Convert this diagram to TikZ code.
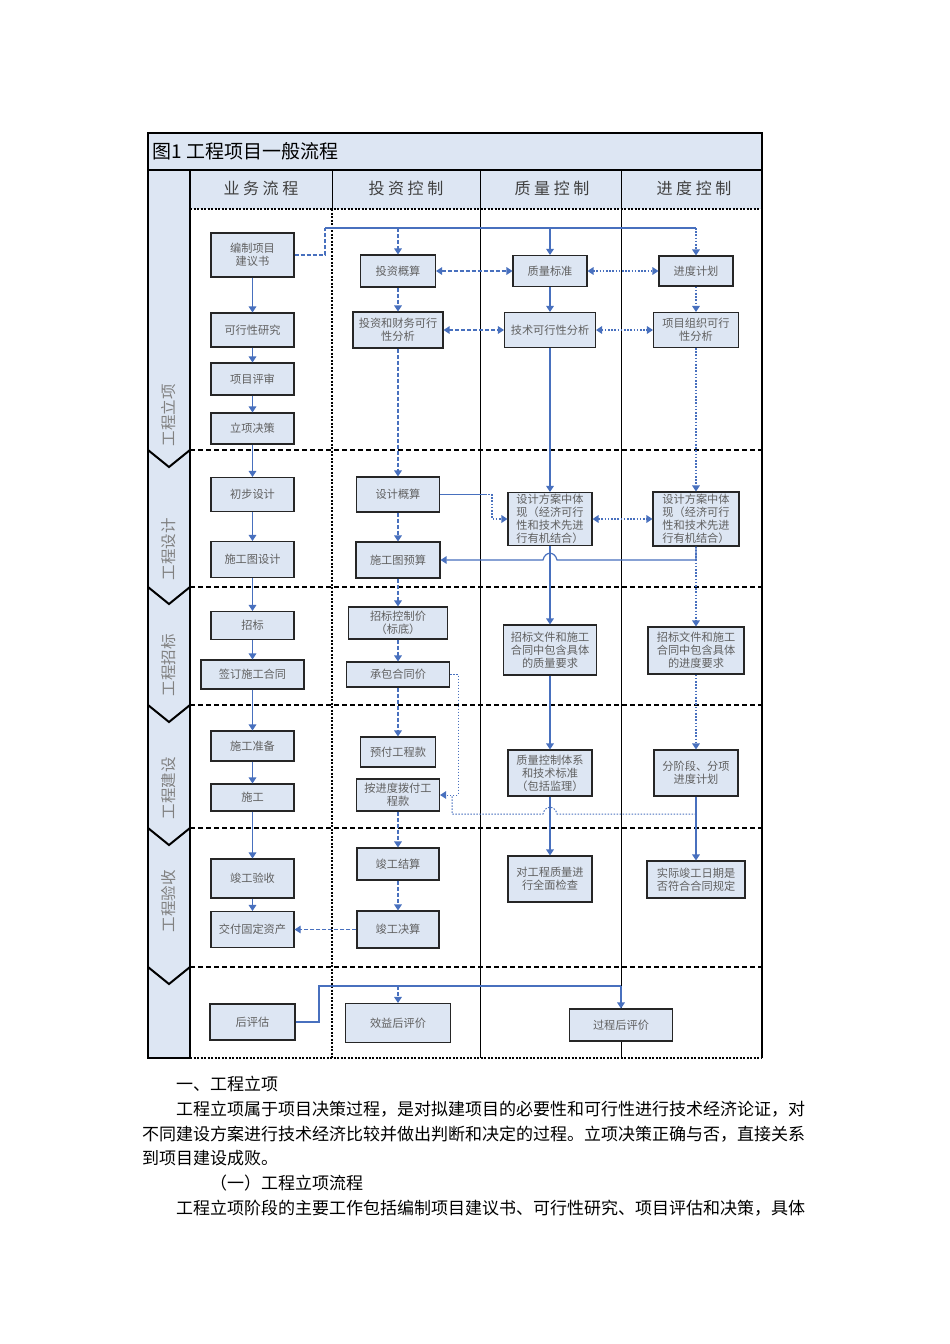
\documentclass[tikz,border=0pt]{standalone}
\usepackage{fontspec}
\newfontfamily\cjk{Noto Sans CJK SC}
\newfontfamily\cjkwide[LetterSpace=22]{Noto Sans CJK SC}
\usetikzlibrary{arrows.meta}
\definecolor{paleblue}{RGB}{221,230,243}
\definecolor{flowblue}{RGB}{72,112,190}
\definecolor{boxtext}{RGB}{96,96,96}

\begin{document}
\begin{tikzpicture}[x=1pt,y=-1pt,font=\cjk,>={Triangle[length=6pt,width=7.5pt]},
  box/.style={draw=black!85,line width=1.1pt,fill=paleblue,text=boxtext,align=center,
    inner sep=1pt,font=\cjk\fontsize{11.2}{13}\selectfont},
  hdr/.style={text=black!75,font=\cjkwide\fontsize{16}{16}\selectfont},
  phaselbl/.style={rotate=90,text=black!50,font=\cjk\fontsize{15.5}{15.5}\selectfont},
  para/.style={anchor=west,inner sep=0pt,font=\cjk\fontsize{17}{17}\selectfont},
  flowline/.style={draw=flowblue,line width=1.4pt},
  flow/.style={flowline,->},
  dashline/.style={dash pattern=on 4pt off 2pt},
  dotline/.style={dash pattern=on 1.6pt off 1.6pt,line width=1.8pt},
  thinline/.style={line width=1pt,dash pattern=on 1.5pt off 1.5pt},
  phase/.style={line width=1.6pt,dash pattern=on 5pt off 3pt}]
\fill[white] (0,0) rectangle (950,1344);
\useasboundingbox (0,0) rectangle (950,1344);

% frame, lanes and phases
\fill[paleblue] (148,133) rectangle (762,209);
\fill[paleblue] (148,170) rectangle (190,1058);
\draw[line width=1.4pt] (190,1058) -- (148,1058) -- (148,133) -- (762,133) -- (762,1058);
\draw[line width=1.4pt,dash pattern=on 2pt off 1.5pt] (190,1058) -- (762,1058);
\draw[line width=1.8pt] (148,170) -- (762,170);
\draw[line width=1.4pt,dash pattern=on 2pt off 1.5pt] (190,209) -- (762,209);
\draw[line width=1.5pt] (190,170) -- (190,1058);
\draw[line width=1pt] (332,170) -- (332,209);
\draw[line width=1.4pt,dash pattern=on 2pt off 1.5pt] (332,209) -- (332,1058);
\draw[line width=1pt] (480,170) -- (480,1058);
\draw[line width=1pt] (621,170) -- (621,1058);
\foreach \y in {450,587,705,828,967} {
  \draw[phase] (190,\y) -- (762,\y);
  \draw[line width=2pt] (148,\y) -- (169,{\y+17}) -- (190,\y);
}

\node[anchor=west,font=\cjk\fontsize{19}{19}\selectfont] (title) at (149,151) {图1 工程项目一般流程};
\node[hdr] (h1) at (261,188) {业务流程};
\node[hdr] (h2) at (406,188) {投资控制};
\node[hdr] (h3) at (552,188) {质量控制};
\node[hdr] (h4) at (694,188) {进度控制};

\node[phaselbl] (p1) at (169,415) {工程立项};
\node[phaselbl] (p2) at (169,549) {工程设计};
\node[phaselbl] (p3) at (169,665) {工程招标};
\node[phaselbl] (p4) at (169,788) {工程建设};
\node[phaselbl] (p5) at (169,901) {工程验收};

% 业务流程
\node[box,minimum width=83,minimum height=44] (jys) at (252.5,255) {编制项目\\建议书};
\node[box,minimum width=83,minimum height=34] (kxyj) at (252.5,330) {可行性研究};
\node[box,minimum width=83,minimum height=32] (xmps) at (252.5,379) {项目评审};
\node[box,minimum width=83,minimum height=31] (lxjc) at (252.5,428.5) {立项决策};
\node[box,minimum width=83,minimum height=34] (cbsj) at (252.5,494.5) {初步设计};
\node[box,minimum width=83,minimum height=36] (sgtsj) at (252.5,559.5) {施工图设计};
\node[box,minimum width=83,minimum height=28] (zhaob) at (252.5,625.5) {招标};
\node[box,minimum width=103,minimum height=29] (qdht) at (252.5,674.5) {签订施工合同};
\node[box,minimum width=83,minimum height=30] (sgzb) at (252.5,746) {施工准备};
\node[box,minimum width=83,minimum height=27] (shig) at (252.5,797.5) {施工};
\node[box,minimum width=83,minimum height=39] (jgys) at (252.5,878.5) {竣工验收};
\node[box,minimum width=83,minimum height=36] (jfzc) at (252.5,929.5) {交付固定资产};
\node[box,minimum width=85,minimum height=36] (hpg) at (252.5,1022) {后评估};

% 投资控制
\node[box,minimum width=75,minimum height=32] (tzgs) at (398,271) {投资概算};
\node[box,minimum width=90,minimum height=36] (tzfx) at (398,330) {投资和财务可行\\性分析};
\node[box,minimum width=83,minimum height=35] (sjgs) at (398,494.5) {设计概算};
\node[box,minimum width=84,minimum height=36] (sgtys) at (398,560) {施工图预算};
\node[box,minimum width=99,minimum height=32] (zbkzj) at (398,623) {招标控制价\\（标底）};
\node[box,minimum width=103,minimum height=25] (cbhtj) at (398,674.5) {承包合同价};
\node[box,minimum width=75,minimum height=30] (yfk) at (398,752) {预付工程款};
\node[box,minimum width=83,minimum height=32] (ajdbf) at (398,795) {按进度拨付工\\程款};
\node[box,minimum width=82,minimum height=32] (jgjs) at (398,864) {竣工结算};
\node[box,minimum width=82,minimum height=37] (jgjsuan) at (398,929.5) {竣工决算};
\node[box,minimum width=105,minimum height=39] (xyhpj) at (398,1023) {效益后评价};

% 质量控制
\node[box,minimum width=74,minimum height=31] (zlbz) at (550,271) {质量标准};
\node[box,minimum width=91,minimum height=35] (jskx) at (550,330) {技术可行性分析};
\node[box,minimum width=84,minimum height=53] (zlfa) at (550,519) {设计方案中体\\现（经济可行\\性和技术先进\\行有机结合）};
\node[box,minimum width=93,minimum height=50] (zlyq) at (550,650) {招标文件和施工\\合同中包含具体\\的质量要求};
\node[box,minimum width=84,minimum height=46] (zltx) at (550,773) {质量控制体系\\和技术标准\\（包括监理）};
\node[box,minimum width=84,minimum height=46] (zljc) at (550,879) {对工程质量进\\行全面检查};
\node[box,minimum width=103,minimum height=32] (gchpj) at (621,1025) {过程后评价};

% 进度控制
\node[box,minimum width=74,minimum height=30] (jdjh) at (696,271) {进度计划};
\node[box,minimum width=85,minimum height=35] (zzkx) at (696,330) {项目组织可行\\性分析};
\node[box,minimum width=86,minimum height=54] (jdfa) at (696,519) {设计方案中体\\现（经济可行\\性和技术先进\\行有机结合）};
\node[box,minimum width=96,minimum height=47] (jdyq) at (696,650.5) {招标文件和施工\\合同中包含具体\\的进度要求};
\node[box,minimum width=84,minimum height=46] (fjd) at (696,773) {分阶段、分项\\进度计划};
\node[box,minimum width=98,minimum height=37] (sjjg) at (696,879.5) {实际竣工日期是\\否符合合同规定};

% vertical flows
\foreach \a/\b in {jys/kxyj,kxyj/xmps,xmps/lxjc,lxjc/cbsj,cbsj/sgtsj,sgtsj/zhaob,zhaob/qdht,qdht/sgzb,sgzb/shig,shig/jgys,jgys/jfzc}
  \draw[flow] (\a) -- (\b);
\foreach \a/\b in {tzgs/tzfx,tzfx/sjgs,sjgs/sgtys,sgtys/zbkzj,zbkzj/cbhtj,cbhtj/yfk,ajdbf/jgjs,jgjs/jgjsuan}
  \draw[flow,dashline] (\a) -- (\b);
\foreach \a/\b in {zlbz/jskx,jskx/zlfa,zlfa/zlyq,zlyq/zltx,zltx/zljc}
  \draw[flow] (\a) -- (\b);
\foreach \a/\b in {jdjh/zzkx,zzkx/jdfa,jdfa/jdyq,jdyq/fjd}
  \draw[flow,dotline] (\a) -- (\b);
\draw[flow,line width=2pt] (fjd) -- (sjjg);

% across the lanes
\coordinate (jyturn) at (325,228);
\draw[flowline,dashline,line width=2pt] (jys.east) -| (jyturn);
\draw[flowline] (jyturn) -- (jdjh.north |- jyturn);
\draw[flow,dashline] (tzgs.north |- jyturn) -- (tzgs.north);
\draw[flow] (zlbz.north |- jyturn) -- (zlbz.north);
\draw[flow,dotline] (jdjh.north |- jyturn) -- (jdjh.north);
\draw[flow,dashline,<->] (tzgs) -- (zlbz);
\draw[flow,dotline,<->] (zlbz) -- (jdjh);
\draw[flow,dashline,<->] (tzfx) -- (jskx);
\draw[flow,dotline,<->] (jskx) -- (zzkx);

\coordinate (gsturn) at (492,494.5);
\draw[flowline,line width=1.2pt] (sjgs.east) -- ++(45,0);
\draw[flow,dotline] ([xshift=45pt]sjgs.east) -- (gsturn) |- (zlfa.west);
\draw[flow,dotline,<->] (zlfa) -- (jdfa);
\draw[flow,line width=1.2pt] (jdfa.south) |- (557,560) .. controls (555,551) and (545,551) .. (543,560) -- (sgtys.east);

\coordinate (bfturn) at (458,795);
\draw[flow,thinline] (cbhtj.east) -| (bfturn) -- (ajdbf.east);
\coordinate (jdturn) at (452,814);
\draw[flowline,thinline] (fjd.south |- jdturn) -- (557,814) .. controls (555,805) and (545,805) .. (543,814) -- (jdturn) -- (jdturn |- ajdbf.east);
\draw[flow,dashline,line width=1.1pt] (jgjsuan) -- (jfzc);

\coordinate (hpturn) at (319,986);
\draw[flowline,line width=2pt] (hpg.east) -| (hpturn) -- (xyhpj.north |- hpturn);
\draw[flowline] (xyhpj.north |- hpturn) -- (gchpj.north |- hpturn);
\draw[flow,dashline] (xyhpj.north |- hpturn) -- (xyhpj.north);
\draw[flow] (gchpj.north |- hpturn) -- (gchpj.north);

% text under the chart
\node[para] (t1) at (176,1084) {一、工程立项};
\node[para] (t2) at (176,1109) {工程立项属于项目决策过程，是对拟建项目的必要性和可行性进行技术经济论证，对};
\node[para] (t3) at (142,1134) {不同建设方案进行技术经济比较并做出判断和决定的过程。立项决策正确与否，直接关系};
\node[para] (t4) at (142,1158) {到项目建设成败。};
\node[para] (t5) at (210,1183) {（一）工程立项流程};
\node[para] (t6) at (176,1208) {工程立项阶段的主要工作包括编制项目建议书、可行性研究、项目评估和决策，具体};
\end{tikzpicture}
\end{document}
